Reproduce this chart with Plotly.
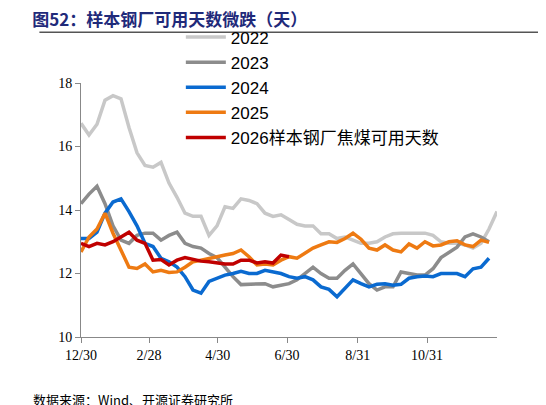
import plotly.graph_objects as go

y2022 = [16.73, 16.36, 16.7, 17.46, 17.6, 17.5, 16.6, 15.8, 15.4, 15.35, 15.5, 14.85, 14.4, 13.9,
         13.8, 13.8, 13.2, 13.5, 14.1, 14.05, 14.35, 14.3, 14.2, 13.9, 13.8, 13.85, 13.7, 13.55,
         13.5, 13.5, 13.25, 13.25, 13.1, 13.15, 13.05, 12.95, 12.95, 13.0, 13.15, 13.25, 13.27,
         13.27, 13.27, 13.27, 13.2, 13.0, 12.95, 12.95, 12.9, 12.8, 12.95, 13.4, 13.95]
y2023 = [14.2, 14.5, 14.75, 14.2, 13.5, 13.05, 12.95, 13.2, 13.27, 13.27, 13.05, 13.2, 13.3, 12.95,
         12.85, 12.8, 12.63, 12.5, 12.2, 11.9, 11.65, 11.66, 11.66, 11.68, 11.58, 11.63, 11.68, 11.8,
         12.0, 12.2, 12.0, 11.85, 11.85, 12.1, 12.3, 12.0, 11.68, 11.48, 11.58, 11.58, 12.05, 12.0,
         11.95, 11.95, 12.15, 12.5, 12.68, 12.83, 13.15, 13.25, 13.15, 13.0]
y2024 = [13.1, 13.1, 13.3, 13.9, 14.25, 14.35, 13.95, 13.5, 12.95, 12.85, 12.48, 12.37, 12.2, 11.9,
         11.48, 11.38, 11.75, 11.85, 11.95, 12.0, 12.07, 12.0, 12.0, 12.1, 12.05, 12.0, 11.9, 11.85,
         11.9, 11.8, 11.58, 11.5, 11.27, 11.53, 11.8, 11.68, 11.58, 11.66, 11.68, 11.63, 11.66, 11.85,
         11.9, 11.92, 11.9, 12.0, 12.0, 12.0, 11.9, 12.15, 12.2, 12.48]
y2025 = [12.68, 13.15, 13.4, 13.9, 13.27, 12.74, 12.2, 12.16, 12.3, 12.05, 12.1, 12.03, 12.05, 12.2,
         12.37, 12.42, 12.48, 12.53, 12.58, 12.63, 12.74, 12.53, 12.27, 12.3, 12.27, 12.42, 12.53,
         12.48, 12.63, 12.8, 12.9, 13.0, 12.98, 13.1, 13.27, 13.08, 12.8, 12.74, 12.9, 12.74, 12.68,
         12.93, 12.8, 13.0, 12.87, 12.9, 13.0, 13.03, 12.9, 12.85, 13.05, 12.98]
y2026 = [12.95, 12.85, 12.95, 12.9, 13.0, 13.15, 13.3, 13.05, 12.95, 12.42, 12.44, 12.27, 12.42,
         12.5, 12.44, 12.39, 12.37, 12.33, 12.3, 12.3, 12.42, 12.42, 12.33, 12.37, 12.33, 12.58, 12.53]

tick_pos = [0, 8.5, 17.1, 25.75, 34.6, 43.25]
tick_text = ['12/30', '2/28', '4/30', '6/30', '8/31', '10/31']

series = [('2022', y2022, '#C8C8C8'), ('2023', y2023, '#8C8C8C'), ('2024', y2024, '#0A6AD0'),
          ('2025', y2025, '#EE7A12'), ('2026样本钢厂焦煤可用天数', y2026, '#C00000')]

fig = go.Figure()
for name, ys, c in series:
    fig.add_trace(go.Scatter(x=list(range(len(ys))), y=ys, name=name, mode='lines',
                             line=dict(color=c, width=3.5)))

# page body adds 8px margin, so the figure is drawn 8px smaller
fig.update_layout(
    width=538, height=397, paper_bgcolor='white', plot_bgcolor='white',
    margin=dict(l=73, r=49, t=75, b=68),
    font=dict(family='Liberation Serif', size=14, color='black'),
    legend=dict(x=0.24, y=1.25, xanchor='left', yanchor='top', bgcolor='rgba(0,0,0,0)',
                font=dict(family='Liberation Sans, Noto Sans CJK SC', size=17),
                tracegroupgap=0, itemwidth=40),
    title=dict(text='<b>图52：样本钢厂可用天数微跌（天）</b>', x=0.045, y=0.985, xanchor='left',
               font=dict(family='Noto Sans CJK SC', size=17, color='#1F2A7A')),
    shapes=[dict(type='line', xref='paper', yref='paper', x0=-0.1, x1=1.12, y0=1.2, y1=1.2,
                 line=dict(color='#555', width=1.5))],
    annotations=[dict(text='数据来源：Wind、开源证券研究所', xref='paper', yref='paper', x=-0.12, y=-0.2,
                      xanchor='left', yanchor='top', showarrow=False,
                      font=dict(family='Noto Sans CJK SC', size=13, color='black'))],
)
fig.update_xaxes(range=[0, 52], tickvals=tick_pos, ticktext=tick_text, showline=True,
                 linecolor='#888', ticks='outside', ticklen=5, tickcolor='#888', showgrid=False,
                 zeroline=False)
fig.update_yaxes(range=[10, 18], dtick=2, showline=True, linecolor='#888', ticks='outside',
                 ticklen=5, tickcolor='#888', showgrid=False, zeroline=False)

fig.write_html("out.html")
